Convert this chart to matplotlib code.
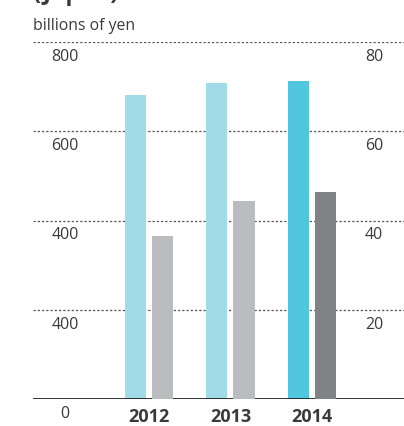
import matplotlib
matplotlib.use('Agg')
import matplotlib.pyplot as plt
import matplotlib.transforms as mtransforms
import numpy as np

plt.rcParams['font.family'] = ['Open Sans', 'DejaVu Sans']

years = ['2012', '2013', '2014']
sales = [681, 708, 713]          # billions of yen, left axis
income = [36.5, 44.4, 46.4]      # right axis
sales_colors = ['#a1dbe8', '#a1dbe8', '#50c7df']
income_colors = ['#bbbcc0', '#bbbcc0', '#818285']
left_ticks = [0, 200, 400, 600, 800]
left_labels = ['0', '400', '400', '600', '800']
right_ticks = [20, 40, 60, 80]
right_labels = ['20', '40', '60', '80']

text_col = '#3a3a3a'

fig = plt.figure(figsize=(4.04, 4.27), dpi=100)
ax = fig.add_axes([33 / 404, 27 / 427, 371 / 404, (400 - 43) / 427])
ax2 = ax.twinx()

x = np.arange(len(years))
w = 0.26
off = 0.167
ax.bar(x - off, sales, width=w, color=sales_colors, zorder=3)
ax2.bar(x + off, income, width=w, color=income_colors, zorder=3)

ax.set_xlim(-1.423, 3.129)
ax.set_ylim(0, 800)
ax2.set_ylim(0, 80)

for s in ax.spines.values():
    s.set_visible(False)
for s in ax2.spines.values():
    s.set_visible(False)
ax.set_yticks([])
ax2.set_yticks([])

# dotted gridlines
for t in left_ticks[1:]:
    ax.axhline(t, color='#555555', lw=0.9, ls=(0, (1.8, 1.6)), zorder=1)
ax.axhline(0, color='#222222', lw=1.3, zorder=4)

# tick labels sit under each gridline
down = mtransforms.offset_copy(ax.get_yaxis_transform(), fig=fig, y=-6, units='dots')
for t, lab in zip(left_ticks, left_labels):
    ax.text(0.086, t, lab, transform=down, ha='center', va='top',
            fontsize=11.5, color=text_col)
down2 = mtransforms.offset_copy(ax2.get_yaxis_transform(), fig=fig, y=-6, units='dots')
for t, lab in zip(right_ticks, right_labels):
    ax2.text(0.919, t, lab, transform=down2, ha='center', va='top',
             fontsize=11.5, color=text_col)

ax.set_xticks(x, years)
ax.tick_params(axis='x', length=0, pad=6, labelsize=13, labelcolor=text_col)
for lab in ax.get_xticklabels():
    lab.set_fontweight('bold')

# title is cropped at the top edge, as in the source
fig.text(33 / 404, 1.0, '(Japan)', fontsize=17, fontweight='bold',
         color=text_col, va='baseline', ha='left')
fig.text(33 / 404, 1 - 30 / 427, 'billions of yen', fontsize=11.3,
         color=text_col, va='baseline', ha='left')

fig.savefig('out.png', dpi=100)
